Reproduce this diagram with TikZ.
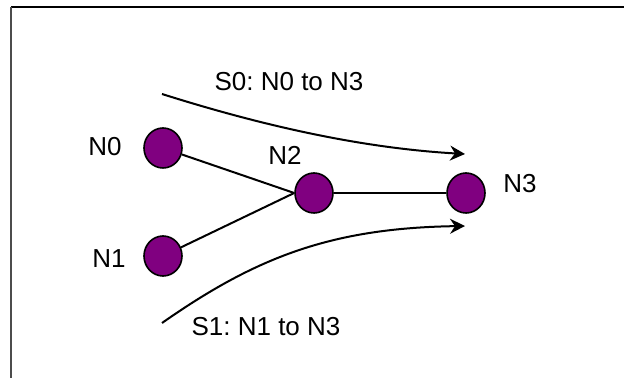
\documentclass[tikz,border=0pt]{standalone}
\usepackage{fontspec}
\setmainfont{Liberation Sans}
\frenchspacing
\usetikzlibrary{positioning, arrows.meta, shapes.geometric}
\definecolor{nodepurple}{RGB}{128,0,128}
\tikzset{
    router/.style={ellipse, draw=black, line width=0.8pt, fill=nodepurple,
        minimum width=19pt, minimum height=20pt, inner sep=0pt}, % the network nodes
    tag/.style={font=\fontsize{13}{15}\selectfont, inner sep=0pt}, % node names and flow names
    link/.style={line width=1pt}, % plain links between nodes
}
\tikzstyle{flow} = [line width=1pt, -{Stealth[length=7.5pt, width=7.5pt, inset=2.5pt]}]

\begin{document}
\begin{tikzpicture}[x=0.5pt, y=-0.5pt]
    \useasboundingbox (0,0) rectangle (624,378);
    % frame, open on the right and at the bottom
    \draw[line width=1.2pt] (11,7) -- (624,7);
    \draw[line width=1pt, black!70] (11,7) -- (11,378);

    \node[router] (n0) at (163,148) {};
    \node[router] (n1) at (163,256) {};
    \node[router] (n2) at (314,193) {};
    \node[router] (n3) at (466,193) {};

    \node[tag] (l0) at (105,147) {N0};
    \node[tag] (l1) at (109,259) {N1};
    \node[tag] (l2) at (285,155) {N2};
    \node[tag] (l3) at (520,184) {N3};

    \draw[link] (n0) -- (n2.west);
    \draw[link] (n1) -- (n2.west);
    \draw[link] (n2) -- (n3);

    % the two flows towards N3
    \coordinate (s0a) at (162,94);
    \coordinate (s0b) at (465,154);
    \coordinate (s1a) at (162,323);
    \coordinate (s1b) at (465,226);
    \draw[flow] (s0a) .. controls (260,125) and (360,148) .. (s0b);
    \draw[flow] (s1a) .. controls (255,258) and (330,228) .. (s1b);
    \node[tag] (f0) at (289,82) {S0: N0 to N3};
    \node[tag] (f1) at (266,327) {S1: N1 to N3};
\end{tikzpicture}
\end{document}
